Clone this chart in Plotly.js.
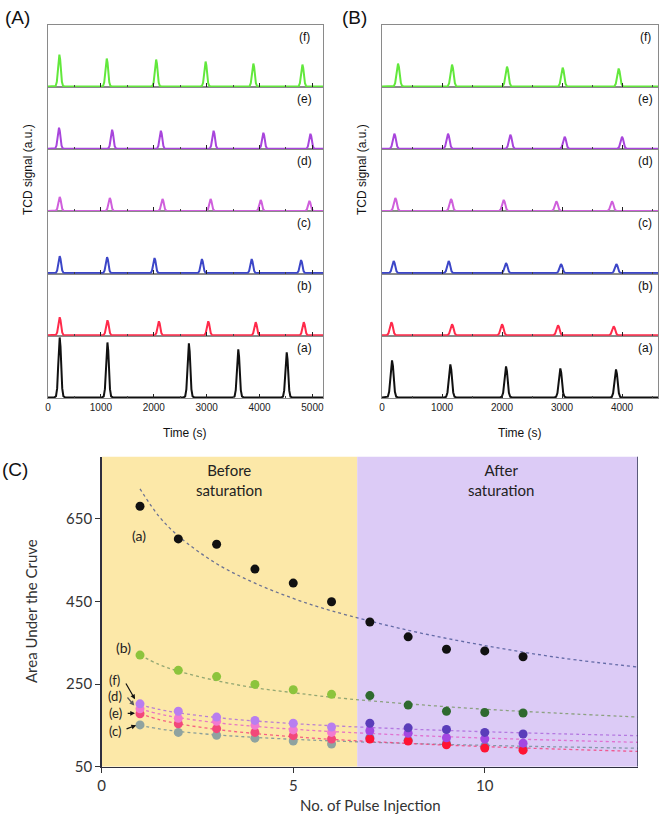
<!DOCTYPE html>
<html><head><meta charset="utf-8">
<script src="https://cdn.plot.ly/plotly-3.0.1.min.js"></script>
<style>html,body{margin:0;padding:0;background:#fff;}#chart{width:661px;height:816px;}</style>
</head><body><div id="chart"></div>
<script>
// ---------- DATA ----------
// Panel A (TCD signal), peak times (s) and heights (a.u.), series (a)..(f)
const timesA_a=[221,1124,2664,3598,4514], heightsA_a=[60,55,54,48,45];
const timesA_b=[221,1124,2096,3030,3927,4836], heightsA_b=[18,15,14,14,13,13];
const timesA_c=[221,1117,2014,2910,3851,4785], heightsA_c=[17,16,15,14,14,13];
const timesA_d=[221,1168,2165,3074,4021,4943], heightsA_d=[14,13,12,12,11,10];
const timesA_e=[208,1212,2134,3131,4072,4962], heightsA_e=[21,19,18,18,16,15];
const timesA_f=[215,1111,2045,2980,3883,4811], heightsA_f=[32,28,27,25,23,22];
// Panel B
const timesB_a=[167,1139,2067,2972,3900], heightsB_a=[37,33,31,29,28];
const timesB_b=[156,1167,2000,2933,3861], heightsB_b=[13,11,11,10,9];
const timesB_c=[194,1111,2067,2983,3906], heightsB_c=[12,12,10,9,9];
const timesB_d=[222,1150,2028,2906,3833], heightsB_d=[13,12,11,9.5,9.5];
const timesB_e=[206,1100,2139,3044,4000], heightsB_e=[15,15,14,12,12];
const timesB_f=[267,1167,2083,3011,3944], heightsB_f=[23,22,20,19,18];
// peak profile (offset in s, relative height)
const peakOffsets=[-100,-70,-48,-30,-15,0,15,30,48,70,100];
const peakShape=[0,0.02,0.15,0.5,0.85,1,0.85,0.5,0.15,0.02,0];
const seriesLabels=['(a)','(b)','(c)','(d)','(e)','(f)'];
const tickValsTime=[0,1000,2000,3000,4000,5000];

// Panel C
const pulseNo=[1,2,3,4,5,6,7,8,9,10,11];
const areaA=[680,601,588,528,494,449,400,364,334,330,316];
const areaB=[320,283,268,249,236,225,222,199,184,181,180];
const areaC=[151,133,126,119,112,105,120,114,106,99,94];
const areaD=[190,167,160,150,139,133,137,131,120,117,107];
const areaE=[178,154,142,133,125,117,117,112,103,95,90];
const areaF=[202,184,170,162,155,146,155,144,140,133,129];
const trendX=[1,1.5,2,3,4,5,6,8,10,12,14];
const trendA=[722,655,608,541,494,457,427,380,343,313,291];
const trendB=[320,297,281,258,241,229,218,202,189,179,170];
const trendC=[150,141.5,135.4,126.9,120.9,116.2,112.4,106.3,101.6,97.8,94.6];
const trendD=[190,177.6,168.7,156.3,147.4,140.6,135,126.2,119.3,113.7,109];
const trendE=[178,164,154.1,140.1,130.2,122.5,116.2,106.3,98.6,92.3,87];
const trendF=[200,188.5,180.3,168.8,160.6,154.3,149.1,141,134.6,129.4,125];
const saturationX=6.67;

// ---------- LAYOUT HELPERS ----------
const W=661,H=816;
const PX=x=>x/W, PY=y=>1-y/H;
const rowH=62.17, rowBottom0=398;
const colorsTCD=['#111111','#ff2a4a','#3c46c8','#cf5fdc','#a845dc','#62e83c'];
const greyBox='#8a8a8a';
const fontA='Liberation Sans, Arial, sans-serif';
const fontC='Lato, Open Sans, sans-serif';

function buildPeaks(times,heights,xmax){
  const xs=[0],ys=[0];
  times.forEach((t,i)=>{peakOffsets.forEach((o,j)=>{xs.push(t+o);ys.push(heights[i]*peakShape[j]);});});
  xs.push(xmax);ys.push(0);
  return {xs,ys};
}
const Aseries=[[timesA_a,heightsA_a],[timesA_b,heightsA_b],[timesA_c,heightsA_c],[timesA_d,heightsA_d],[timesA_e,heightsA_e],[timesA_f,heightsA_f]];
const Bseries=[[timesB_a,heightsB_a],[timesB_b,heightsB_b],[timesB_c,heightsB_c],[timesB_d,heightsB_d],[timesB_e,heightsB_e],[timesB_f,heightsB_f]];

const data=[];const layout={width:W,height:H,margin:{l:0,r:0,t:0,b:0},showlegend:false,
  paper_bgcolor:'#fff',plot_bgcolor:'rgba(0,0,0,0)',annotations:[],shapes:[]};

function addPanel(series,offset,xLeft,xRight,xmax,labelX){
  series.forEach((s,i)=>{
    const n=i+1+offset;
    const p=buildPeaks(s[0],s[1],xmax);
    data.push({x:p.xs,y:p.ys,type:'scatter',mode:'lines',xaxis:'x'+n,yaxis:'y'+n,
      line:{color:colorsTCD[i],width:2},hoverinfo:'skip'});
    const bot=rowBottom0-rowH*i, top=bot-rowH;
    layout['xaxis'+n]={domain:[PX(xLeft),PX(xRight)],anchor:'y'+n,range:[0,xmax],
      showline:true,mirror:true,linecolor:greyBox,linewidth:1,showgrid:false,zeroline:false,
      tickvals:tickValsTime,ticks:'inside',ticklen:4,tickcolor:'#222',
      minor:{dtick:500,ticks:'inside',ticklen:2,tickcolor:'#444'},
      showticklabels:i===0,tickfont:{family:fontA,size:10,color:'#222'}};
    layout['yaxis'+n]={domain:[PY(bot),PY(top)],anchor:'x'+n,range:[-0.6,61.6],
      showline:true,mirror:true,linecolor:greyBox,linewidth:1,showgrid:false,zeroline:false,
      showticklabels:false,ticks:''};
    layout.annotations.push({xref:'paper',yref:'paper',x:PX(labelX),y:PY(top+12),text:seriesLabels[i],
      showarrow:false,xanchor:'center',yanchor:'middle',font:{family:fontA,size:12,color:'#111'}});
  });
}
addPanel(Aseries,0,48,323,5200,304);
addPanel(Bseries,6,382,658,4600,645);

// Panel titles / labels for A and B
[['(A)',17,17],['(B)',354,17],['(C)',15,470]].forEach(a=>layout.annotations.push({xref:'paper',yref:'paper',
  x:PX(a[1]),y:PY(a[2]),text:a[0],showarrow:false,xanchor:'center',yanchor:'middle',font:{family:fontA,size:19,color:'#111'}}));
[[185,433],[520,433]].forEach(a=>layout.annotations.push({xref:'paper',yref:'paper',x:PX(a[0]),y:PY(a[1]),
  text:'Time (s)',showarrow:false,xanchor:'center',yanchor:'middle',font:{family:fontA,size:12,color:'#111'}}));
[[28,170],[362,170]].forEach(a=>layout.annotations.push({xref:'paper',yref:'paper',x:PX(a[0]),y:PY(a[1]),
  text:'TCD signal (a.u.)',textangle:-90,showarrow:false,xanchor:'center',yanchor:'middle',font:{family:fontA,size:12,color:'#111'}}));

// ---------- PANEL C ----------
const cL=101.7,cR=638,cT=456.6,cB=766.7;
layout.xaxis13={domain:[PX(cL),PX(cR)],anchor:'y13',range:[0,14],tickvals:[0,5,10],ticks:'outside',ticklen:5,
  tickcolor:'#333',showline:true,linecolor:'#2e2e3e',linewidth:1.5,showgrid:false,zeroline:false,
  tickfont:{family:fontC,size:15,color:'#333'}};
layout.yaxis13={domain:[PY(cB),PY(cT)],anchor:'x13',range:[50,800],tickvals:[50,250,450,650],ticks:'outside',ticklen:5,
  tickcolor:'#333',showline:true,linecolor:'#2e2e3e',linewidth:1.5,showgrid:false,zeroline:false,
  tickfont:{family:fontC,size:15,color:'#333'}};
layout.annotations.push({xref:'paper',yref:'paper',x:PX(370),y:PY(805),text:'No. of Pulse Injection',showarrow:false,
  xanchor:'center',yanchor:'middle',font:{family:fontC,size:15,color:'#333'}});
layout.annotations.push({xref:'paper',yref:'paper',x:PX(31),y:PY(611),text:'Area Under the Cruve',textangle:-90,showarrow:false,
  xanchor:'center',yanchor:'middle',font:{family:fontC,size:15,color:'#333'}});
layout.shapes.push({type:'rect',xref:'x13',yref:'y13',x0:0,x1:saturationX,y0:50,y1:800,fillcolor:'#fce8a8',line:{width:0},layer:'below'});
layout.shapes.push({type:'rect',xref:'x13',yref:'y13',x0:saturationX,x1:14,y0:50,y1:800,fillcolor:'#dccbf6',line:{width:0},layer:'below'});
layout.shapes.push({type:'line',xref:'x13',yref:'y13',x0:14,x1:14,y0:50,y1:800,line:{color:'#2e3450',width:1.5}});

const trends=[[trendC,'rgba(110,140,150,0.8)'],[trendB,'rgba(120,150,100,0.8)'],[trendA,'rgba(60,75,140,0.75)'],
  [trendE,'rgba(245,60,120,0.8)'],[trendD,'rgba(225,90,200,0.8)'],[trendF,'rgba(170,100,220,0.8)']];
trends.forEach(t=>data.push({x:trendX,y:t[0],type:'scatter',mode:'lines',xaxis:'x13',yaxis:'y13',
  line:{color:t[1],width:1.3,dash:'dot',shape:'spline'},hoverinfo:'skip'}));

const pointSeries=[[areaC,'#8fa3a0','#6f86b0'],[areaE,'#f2487a','#ff1433'],[areaD,'#f27ad0','#a447e2'],
  [areaF,'#b87ef0','#5a3dba'],[areaB,'#8cc43c','#2f6a2f'],[areaA,'#111111','#111111']];
pointSeries.forEach(s=>data.push({x:pulseNo,y:s[0],type:'scatter',mode:'markers',xaxis:'x13',yaxis:'y13',
  marker:{size:9,color:pulseNo.map(v=>v<saturationX?s[1]:s[2])},hoverinfo:'skip'}));

// texts in C
const tC=(x,y,txt,size)=>layout.annotations.push({xref:'x13',yref:'y13',x:x,y:y,text:txt,showarrow:false,
  xanchor:'center',yanchor:'middle',font:{family:fontC,size:size,color:'#222'}});
tC(3.32,744,'Before<br>saturation',15);
tC(10.43,744,'After<br>saturation',15);
tC(0.98,610,'(a)',14);
tC(0.57,338,'(b)',14);
tC(0.33,260,'(f)',13);
tC(0.36,220,'(d)',13);
tC(0.36,179,'(e)',13);
tC(0.36,136,'(c)',13);
const arr=(ax,ay,x,y,c)=>layout.annotations.push({xref:'x13',yref:'y13',axref:'x13',ayref:'y13',x:x,y:y,ax:ax,ay:ay,
  text:'',showarrow:true,arrowhead:2,arrowsize:0.8,arrowwidth:1.2,arrowcolor:c});
arr(0.61,255,0.87,213,'#111');
arr(0.64,221,0.85,198,'#555');
arr(0.64,179,0.87,179,'#111');
arr(0.61,140,0.90,150,'#111');

Plotly.newPlot('chart',data,layout,{staticPlot:true,displayModeBar:false});
</script></body></html>
